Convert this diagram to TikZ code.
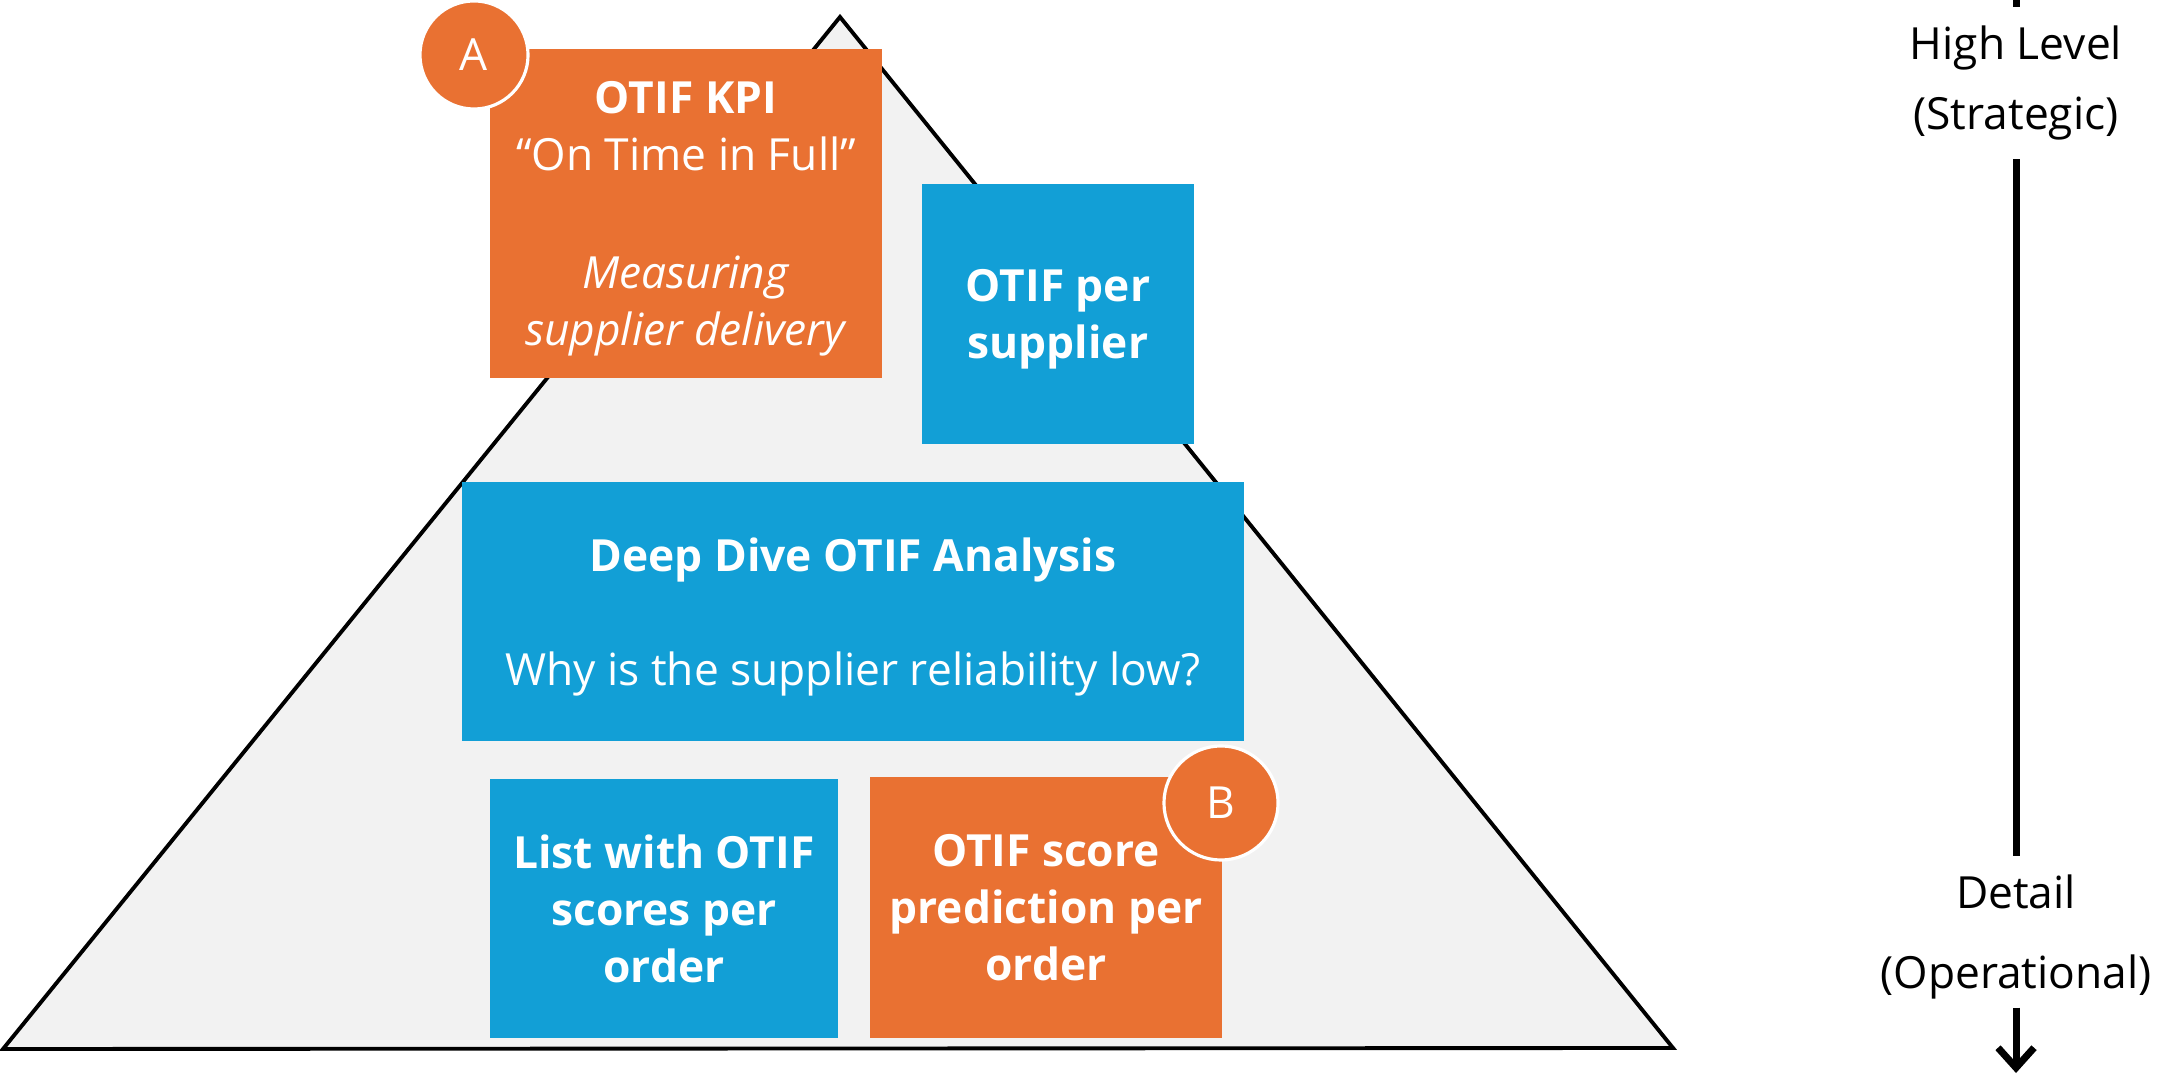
\documentclass[tikz,border=0pt]{standalone}
\usepackage{fontspec}
\setmainfont{Open Sans}
\usepackage{tikz}
\usetikzlibrary{arrows.meta,positioning}
\definecolor{otiforange}{HTML}{E97132}
\definecolor{otifblue}{HTML}{129FD6}
\definecolor{otifgrey}{HTML}{F2F2F2}

\begin{document}
\begin{tikzpicture}[x=0.01cm, y=-0.01cm,
  every node/.style={font=\fontsize{12.6}{16.2}\selectfont},
  box/.style={inner sep=0pt, align=center, text=white, text depth=-1pt},
  kpibox/.style={box, fill=otiforange},
  infobox/.style={box, fill=otifblue},
  badge/.style={circle, fill=otiforange, draw=white, line width=0.9pt,
    inner sep=0pt, text=white},
  level/.style={align=center, inner xsep=0pt, inner ysep=0.18cm},
  axis/.style={line width=2pt}]
  \useasboundingbox (0,0) rectangle (2158,1074);

  % pyramid
  \draw[fill=otifgrey, line width=1.1pt] (840,17) -- (1673,1048) -- (3,1049) -- cycle;

  \node[kpibox, minimum width=3.92cm, minimum height=3.29cm] (kpi) at (686,213.5)
    {\textbf{OTIF KPI}\\``On Time in Full''\\[17.4pt]\textit{Measuring}\\\textit{supplier delivery}};
  \node[infobox, minimum width=2.72cm, minimum height=2.60cm] (persupplier) at (1058,314)
    {\textbf{OTIF per}\\\textbf{supplier}};
  \node[infobox, minimum width=7.82cm, minimum height=2.59cm] (deepdive) at (853,611.5)
    {\textbf{Deep Dive OTIF Analysis}\\[16.2pt]Why is the supplier reliability low?};
  \node[infobox, minimum width=3.48cm, minimum height=2.59cm] (orderlist) at (664,908.5)
    {\textbf{List with OTIF}\\\textbf{scores per}\\\textbf{order}};
  \node[kpibox, minimum width=3.52cm, minimum height=2.61cm] (prediction) at (1046,907.5)
    {\textbf{OTIF score}\\\textbf{prediction per}\\\textbf{order}};

  \node[badge, minimum size=1.08cm] (badgeA) at (474,55) {A};
  \node[badge, minimum size=1.14cm] (badgeB) at (1221,803) {B};

  % level axis
  \coordinate (axtop) at (2016,-10);
  \coordinate (axbot) at (2016,1073);
  \node[level] (highlevel) at (2016,83) {High Level\\[3.9pt](Strategic)};
  \node[level] (detail) at (2016,937) {Detail\\[6.4pt](Operational)};
  \draw[axis] (axtop) -- (highlevel);
  \draw[axis] (highlevel) -- (detail);
  \draw[axis, shorten <=-0.1cm, -{Straight Barb[length=0.2cm, width=0.36cm]}] (detail) -- (axbot);
\end{tikzpicture}
\end{document}
